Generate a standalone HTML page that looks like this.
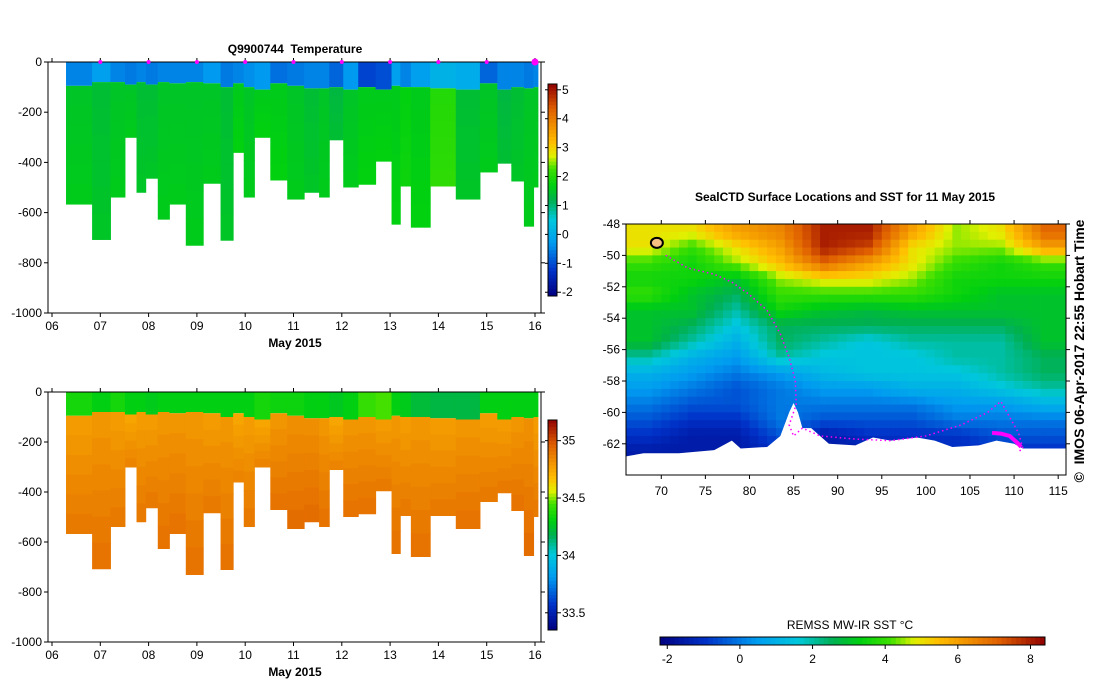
<!DOCTYPE html>
<html><head><meta charset="utf-8"><style>
html,body{margin:0;padding:0;background:#fff;width:1099px;height:700px;overflow:hidden}
svg text{font-family:"Liberation Sans",sans-serif;white-space:pre}
</style></head><body>
<svg id="root" width="1099" height="700" xmlns="http://www.w3.org/2000/svg"></svg>
<script>
// ---- profile data ----
const profileEdges=[6.29,6.83,7.21,7.51,7.75,7.94,8.19,8.43,8.77,9.13,9.49,9.75,9.97,10.19,10.52,10.87,11.22,11.53,11.74,12.03,12.34,12.70,13.03,13.21,13.43,13.83,14.36,14.86,15.22,15.51,15.77,15.97,16.06];
const maxDepth=[566,707,538,300,519,463,626,566,730,483,710,360,538,300,470,546,519,538,310,498,487,395,646,494,658,494,546,438,403,474,654,498];
const mixedDepth=[95,80,80,90,80,90,80,85,80,85,100,85,100,110,85,95,105,105,100,110,100,110,95,100,100,105,110,85,110,100,105,100];
const tempSurf=[-0.5,-0.2,-0.5,-0.6,-0.5,-0.6,-0.5,-0.5,-0.5,-0.3,-0.6,-0.5,-0.4,-0.3,-0.7,-0.6,-0.5,-0.5,-0.8,-0.3,-1.1,-1.0,-0.2,-0.5,-0.2,0.1,0.0,-0.8,-0.5,-0.5,-0.6,-0.5];
const tempDeep=[1.5,1.4,1.5,1.5,1.4,1.4,1.5,1.5,1.5,1.5,1.4,1.6,1.5,1.6,1.6,1.5,1.4,1.5,1.3,1.5,1.6,1.6,1.6,1.7,1.6,2.0,1.4,1.5,1.3,1.4,1.5,1.5];
const salSurf=[34.35,34.3,34.35,34.3,34.3,34.28,34.3,34.3,34.3,34.3,34.3,34.3,34.3,34.35,34.33,34.33,34.3,34.3,34.27,34.3,34.42,34.45,34.3,34.28,34.22,34.2,34.2,34.3,34.3,34.3,34.3,34.3];
const salDeep=[34.78,34.8,34.78,34.75,34.78,34.78,34.8,34.8,34.8,34.78,34.8,34.75,34.78,34.75,34.8,34.82,34.82,34.8,34.75,34.8,34.8,34.78,34.8,34.78,34.8,34.78,34.8,34.78,34.78,34.8,34.82,34.78];
const dayTicks=[6,7,8,9,10,11,12,13,14,15,16];
const depthTicks=[0,-200,-400,-600,-800,-1000];
const tempBarTicks=[5,4,3,2,1,0,-1,-2];
const salBarTicks=[35,34.5,34,33.5];
const sstBarTicks=[-2,0,2,4,6,8];
// ---- map data ----
const lonTicks=[70,75,80,85,90,95,100,105,110,115];
const latTicks=[-48,-50,-52,-54,-56,-58,-60,-62];
const gridLons=[66,71,76,81,86,91,96,101,106,111,116];
const sstGrid=[
[5,5,6,6.5,8,8,6,4.5,5,7],
[5,4,5,6,8,7.5,5,4.5,4.5,6],
[4,3.5,4.5,5.5,7,6,5,4,3.5,4],
[3.5,3.5,3,4.5,5,5,4.5,3.5,3.5,3.5],
[4,3,2.5,4,4,4,4,3.5,3,3],
[3,3,2,3.5,3,2.8,3,3,3,3],
[3,2.5,1.5,2.5,2.5,2.5,2.5,2.5,2.5,3],
[3,2,1,2.5,2,1.5,2,2,2,3],
[2,1,0.5,2,1.5,1.5,1.5,2,2,2.5],
[1,0.5,0,0.5,1.2,1.5,1.5,1.5,2,2.5],
[0.5,0,-0.5,0,0.5,0.5,1,1,1.5,2],
[0,-0.5,-0.5,0,0,0,0,0.5,0.5,1],
[-0.5,-1,-1,0,-0.5,-0.5,-0.5,0,0,0],
[-1,-1.5,-1.5,-0.5,-1.5,-1,-1,-1,-0.5,-0.5],
[-1.5,-1.5,-1.5,-1,-1.5,-1.5,-1,-1,-1,-1]];
const iceLon=[66,68,72,76,78,79,82,83.5,84.5,85,85.5,86,87,88,89,92,94,96,99,101,103,106,108,110,111,116];
const iceLat=[-62.8,-62.6,-62.6,-62.4,-61.8,-62.3,-62.2,-61.5,-60,-59.4,-60,-61,-61,-61.5,-62,-62.1,-61.6,-61.8,-61.6,-61.8,-62.2,-62.1,-61.8,-62,-62.3,-62.3];
const trackLon=[70.5,73,76,78,80,82,83.5,84.5,85.2,85.3,84.5,85,86,88,92,96,100,104,107,108.5,109.5,110.5,111,110.5];
const trackLat=[-50,-50.8,-51.2,-51.7,-52.5,-53.5,-55,-56.5,-58,-59.5,-60.8,-61.5,-61,-61.5,-61.7,-61.8,-61.5,-60.8,-60,-59.3,-60.3,-61.3,-62.3,-62.5];
const recentLon=[107.5,108.5,109.5,110.3,110.8];
const recentLat=[-61.3,-61.35,-61.5,-61.9,-62.2];

const NS="http://www.w3.org/2000/svg";
const root=document.getElementById('root');
function mk(tag,attrs,parent){const e=document.createElementNS(NS,tag);for(const k in attrs)e.setAttribute(k,attrs[k]);(parent||root).appendChild(e);return e;}
const stops=[[0,[0,0,128]],[0.12,[0,50,200]],[0.25,[0,155,240]],[0.36,[0,200,220]],[0.45,[0,176,80]],[0.52,[0,208,16]],[0.6,[64,224,0]],[0.66,[224,240,0]],[0.72,[255,192,0]],[0.8,[240,144,0]],[0.88,[224,96,0]],[1,[144,0,0]]];
function cmap(t){t=Math.max(0,Math.min(1,t));for(let i=1;i<stops.length;i++){if(t<=stops[i][0]){const a=stops[i-1],b=stops[i];const f=(t-a[0])/(b[0]-a[0]);const c=a[1].map((v,j)=>Math.round(v+(b[1][j]-v)*f));return `rgb(${c[0]},${c[1]},${c[2]})`;}}return 'rgb(144,0,0)';}

function drawSection(cfg){
  const g=mk('g',{});
  
  
  const x=d=>52+(d-6)*48.3;
  const y=m=>cfg.top+m*cfg.ys;
  const norm=v=>(v-cfg.vmin)/(cfg.vmax-cfg.vmin);
  for(let i=0;i<maxDepth.length;i++){
    const x0=x(profileEdges[i]),x1=x(profileEdges[i+1]);
    const s=mk('rect',{x:x0,y:y(0),width:x1-x0+0.5,height:y(mixedDepth[i])-y(0),fill:cmap(norm(cfg.surf[i]))},g);
    
    
    const nb=6;const h=(maxDepth[i]-mixedDepth[i])/nb;
    for(let k=0;k<nb;k++){
      const v=cfg.deep[i]+(k/(nb-1))*cfg.deepDelta;
      const r=mk('rect',{x:x0,y:y(mixedDepth[i]+k*h),width:x1-x0+0.5,height:h*cfg.ys+0.5,fill:cmap(norm(v))},g);
      
      
    }
  }
  const ax=mk('path',{d:`M48 ${cfg.top} H541 M48 ${cfg.top} V${y(1000)} H541 V${cfg.top}`,stroke:'#000',fill:'none','stroke-width':1},g);
  
  
  dayTicks.forEach(d=>{
    mk('line',{x1:x(d),x2:x(d),y1:y(1000),y2:y(1000)+4,stroke:'#000'},g);
    mk('line',{x1:x(d),x2:x(d),y1:cfg.top,y2:cfg.top-4,stroke:'#000'},g);
    const t=mk('text',{x:x(d),y:y(1000)+17,'font-size':12,'text-anchor':'middle'},g);
    t.textContent=String(d).padStart(2,'0');
    
    
  });
  depthTicks.forEach(v=>{
    mk('line',{x1:44,x2:48,y1:y(-v),y2:y(-v),stroke:'#000'},g);
    mk('line',{x1:541,x2:545,y1:y(-v),y2:y(-v),stroke:'#000'},g);
    const t=mk('text',{x:42,y:y(-v)+4,'font-size':12,'text-anchor':'end'},g);
    t.textContent=v;
    
    
  });
  const xl=mk('text',{x:295,y:y(1000)+34,'font-size':12,'font-weight':'bold','text-anchor':'middle'},g);
  xl.textContent='May 2015';
  
  
  const cb=mk('g',{},g);
  
  
  const n=60;const ch=(cfg.cbBot-cfg.cbTop)/n;
  for(let k=0;k<n;k++){mk('rect',{x:548,y:cfg.cbTop+k*ch,width:9,height:ch+0.5,fill:cmap(1-(k+0.5)/n)},cb);}
  mk('rect',{x:548,y:cfg.cbTop,width:9,height:cfg.cbBot-cfg.cbTop,fill:'none',stroke:'#000'},cb);
  const cy=v=>cfg.cbBot-(v-cfg.vmin)/(cfg.vmax-cfg.vmin)*(cfg.cbBot-cfg.cbTop);
  cfg.barTicks.forEach(v=>{
    mk('line',{x1:557,x2:561,y1:cy(v),y2:cy(v),stroke:'#000'},cb);
    mk('line',{x1:545,x2:548,y1:cy(v),y2:cy(v),stroke:'#000'},cb);
    const t=mk('text',{x:562,y:cy(v)+4,'font-size':12},cb);
    t.textContent=v;
    
    
  });
  return {g,x,y};
}
const top1=drawSection({name:'temperature-section',top:62,ys:0.251,surf:tempSurf,deep:tempDeep,deepDelta:0.1,vmin:-2.13,vmax:5.2,cbTop:84,cbBot:296,barTicks:tempBarTicks});
drawSection({name:'salinity-section',top:392,ys:0.25,surf:salSurf,deep:salDeep,deepDelta:0.1,vmin:33.35,vmax:35.18,cbTop:420,cbBot:630,barTicks:salBarTicks});
const tt=mk('text',{x:295,y:53,'font-size':12,'font-weight':'bold','text-anchor':'middle'});
tt.textContent='Q9900744  Temperature';


dayTicks.slice(1).forEach(d=>{
  const m=mk('circle',{cx:top1.x(d),cy:62,r:d===16?3.5:2,fill:'#ff00ff'});
  
  
});

// ---- map ----
const MX=lon=>626+(lon-66)*8.82;
const MY=lat=>224+(-48-lat)*15.7;
const defs=mk('defs',{});
const cp=mk('clipPath',{id:'mapclip'},defs);
mk('rect',{x:626,y:224,width:440,height:251},cp);
const map=mk('g',{'clip-path':'url(#mapclip)'});


const sn=v=>(v+2.2)/10.6;
function sstAt(lon,lat){
  // bilinear interpolation between cell centres
  let fc=(lon-68.5)/5, fr=(-48.5-lat);
  fc=Math.max(0,Math.min(sstGrid[0].length-1,fc)); fr=Math.max(0,Math.min(sstGrid.length-1,fr));
  const c0=Math.floor(fc),r0=Math.floor(fr),c1=Math.min(c0+1,sstGrid[0].length-1),r1=Math.min(r0+1,sstGrid.length-1);
  const a=fc-c0,b=fr-r0;
  return (sstGrid[r0][c0]*(1-a)+sstGrid[r0][c1]*a)*(1-b)+(sstGrid[r1][c0]*(1-a)+sstGrid[r1][c1]*a)*b;
}
const dLon=1,dLat=0.5;
for(let lat=-48;lat>-64;lat-=dLat){
  for(let lon=66;lon<116;lon+=dLon){
    const v=sstAt(lon+dLon/2,lat-dLat/2);
    const cell=mk('rect',{x:MX(lon),y:MY(lat),width:dLon*8.82+0.4,height:dLat*15.7+0.4,fill:cmap(sn(v))},map);
    
    
  }
}
let icePts=iceLon.map((l,i)=>`${MX(l)},${MY(iceLat[i])}`).join(' ');
icePts+=` ${MX(117)},${MY(-62.3)} ${MX(117)},${MY(-65)} ${MX(65)},${MY(-65)} ${MX(65)},${MY(-62.8)}`;
const ice=mk('polygon',{points:icePts,fill:'#fff'},map);


const isl=mk('ellipse',{cx:MX(69.5),cy:MY(-49.2),rx:6,ry:5,fill:'#f5c080',stroke:'#000','stroke-width':2},map);


const tr=mk('polyline',{points:trackLon.map((l,i)=>`${MX(l)},${MY(trackLat[i])}`).join(' '),fill:'none',stroke:'#ff00ff','stroke-width':1.5,'stroke-dasharray':'1.5 3'},map);


const rt=mk('polyline',{points:recentLon.map((l,i)=>`${MX(l)},${MY(recentLat[i])}`).join(' '),fill:'none',stroke:'#ff00ff','stroke-width':4},map);


const mf=mk('rect',{x:626,y:224,width:440,height:251,fill:'none',stroke:'#000'});


lonTicks.forEach(l=>{
  mk('line',{x1:MX(l),x2:MX(l),y1:475,y2:479,stroke:'#000'});
  mk('line',{x1:MX(l),x2:MX(l),y1:224,y2:220,stroke:'#000'});
  const t=mk('text',{x:MX(l),y:495,'font-size':12,'text-anchor':'middle'});
  t.textContent=l;
  
  
});
latTicks.forEach(l=>{
  mk('line',{x1:622,x2:626,y1:MY(l),y2:MY(l),stroke:'#000'});
  mk('line',{x1:1066,x2:1070,y1:MY(l),y2:MY(l),stroke:'#000'});
  const t=mk('text',{x:620,y:MY(l)+4,'font-size':12,'text-anchor':'end'});
  t.textContent=l;
  
  
});
const mt=mk('text',{x:845,y:201,'font-size':12,'font-weight':'bold','text-anchor':'middle'});
mt.textContent='SealCTD Surface Locations and SST for 11 May 2015';


const cr=mk('text',{x:0,y:0,'font-size':14,'font-weight':'bold','text-anchor':'middle',transform:'translate(1084,351) rotate(-90)'});
cr.textContent='©  IMOS 06-Apr-2017 22:55 Hobart Time';


const sb=mk('g',{});


const SX=v=>660+(v+2.2)/10.6*385;
for(let k=0;k<80;k++){mk('rect',{x:660+k*385/80,y:637,width:385/80+0.5,height:8,fill:cmap((k+0.5)/80)},sb);}
mk('rect',{x:660,y:637,width:385,height:8,fill:'none',stroke:'#000'},sb);
sstBarTicks.forEach(v=>{
  mk('line',{x1:SX(v),x2:SX(v),y1:645,y2:649,stroke:'#000'},sb);
  const t=mk('text',{x:SX(v),y:663,'font-size':12,'text-anchor':'middle'},sb);
  t.textContent=v;
  
  
});
const sl=mk('text',{x:850,y:629,'font-size':12,'text-anchor':'middle'});
sl.textContent='REMSS MW-IR SST °C';


</script>
</body></html>
